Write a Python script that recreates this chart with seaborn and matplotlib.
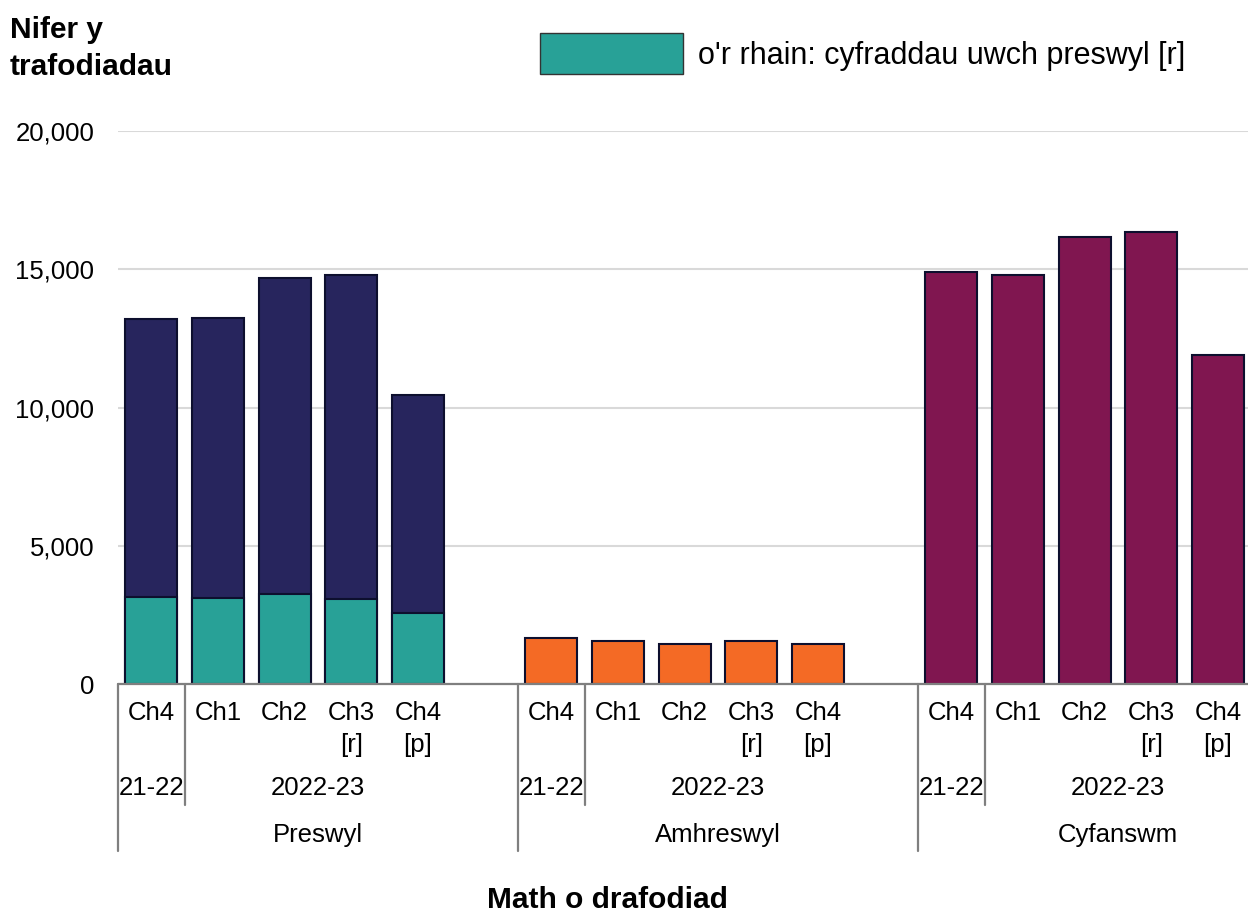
import pandas as pd
import matplotlib.pyplot as plt
import matplotlib.transforms as mtransforms
from matplotlib.patches import Patch
import seaborn as sns

# Data
groups = ['Preswyl', 'Amhreswyl', 'Cyfanswm']
quarters = ['Ch4', 'Ch1', 'Ch2', 'Ch3\n[r]', 'Ch4\n[p]']
years = ['21-22', '2022-23']
residential = [13200, 13240, 14690, 14790, 10450]
higher_rates = [3150, 3110, 3250, 3080, 2570]
non_residential = [1660, 1550, 1450, 1550, 1440]
total = [14900, 14790, 16170, 16350, 11900]

colours = {'Preswyl': '#27255d', 'Amhreswyl': '#f46a25', 'Cyfanswm': '#801650'}
teal = '#28a197'
edge = '#0d0f2e'
grey = '#7f7f7f'

# build slot order: 5 bars per group plus an empty slot between groups
order = []
rows = []
for g, vals in zip(groups, [residential, non_residential, total]):
    for i, v in enumerate(vals):
        slot = f'{g}_{i}'
        order.append(slot)
        rows.append({'slot': slot, 'value': v, 'group': g})
    if g != groups[-1]:
        order.append(f'gap_{g}')
df = pd.DataFrame(rows)
df_hr = pd.DataFrame({'slot': [f'Preswyl_{i}' for i in range(5)], 'value': higher_rates})

sns.set_style('white')
plt.rcParams['font.family'] = ['Liberation Sans', 'DejaVu Sans']
plt.rcParams['text.color'] = 'black'
plt.rcParams['ytick.color'] = 'black'
plt.rcParams['xtick.color'] = 'black'

fig = plt.figure(figsize=(12.48, 9.15), dpi=100)
W, H = 1248, 915
ax = fig.add_axes([118 / W, 1 - 684 / H, (W - 118) / W, (684 - 131) / H])

sns.barplot(data=df, x='slot', y='value', hue='group', order=order,
            palette=colours, dodge=False, width=0.78, edgecolor=edge,
            linewidth=1.5, saturation=1, legend=False, ax=ax, zorder=3)
sns.barplot(data=df_hr, x='slot', y='value', order=order, color=teal,
            width=0.78, edgecolor=edge, linewidth=1.5, saturation=1,
            ax=ax, zorder=4)

ax.set_xlim(-0.5, 16.45)
ax.set_ylim(0, 20000)
ax.set_yticks([0, 5000, 10000, 15000, 20000])
ax.set_yticklabels(['0', '5,000', '10,000', '15,000', '20,000'], fontsize=18.5)
ax.tick_params(axis='y', length=0, pad=17)
ax.set_xticks([])
ax.set_xlabel('')
ax.set_ylabel('')
for s in ax.spines.values():
    s.set_visible(False)
ax.grid(axis='y', color='#d9d9d9', linewidth=1.5, zorder=0)
ax.axhline(0, color=grey, linewidth=1.6, zorder=5, clip_on=False)

# multi-level category labels below the axis
tr = mtransforms.blended_transform_factory(ax.transData, fig.transFigure)
def fy(px):
    return 1 - px / H

for gi, g in enumerate(groups):
    base = gi * 6
    for i, q in enumerate(quarters):
        ax.text(base + i, fy(701), q, transform=tr, ha='center', va='top',
                fontsize=18.5, linespacing=1.4)
    ax.text(base, fy(788), years[0], transform=tr, ha='center', va='center', fontsize=18.5)
    ax.text(base + 2.5, fy(788), years[1], transform=tr, ha='center', va='center', fontsize=18.5)
    ax.text(base + 2.5, fy(835), g, transform=tr, ha='center', va='center', fontsize=18.5)
    ax.plot([base - 0.5, base - 0.5], [fy(684), fy(851)], transform=tr,
            color=grey, linewidth=1.6, clip_on=False)
    ax.plot([base + 0.5, base + 0.5], [fy(684), fy(805)], transform=tr,
            color=grey, linewidth=1.6, clip_on=False)

# titles
fig.text(10 / W, fy(16), 'Nifer y\ntrafodiadau', ha='left', va='top',
         fontsize=21.5, fontweight='bold', linespacing=1.4)
fig.text(607 / W, fy(900), 'Math o drafodiad', ha='center', va='center',
         fontsize=21.5, fontweight='bold')

# legend
fs = 22
px = fs * 100 / 72
fig.legend(handles=[Patch(facecolor=teal, edgecolor='#333333', linewidth=1.0,
                          label="o'r rhain: cyfraddau uwch preswyl [r]")],
           loc='upper left', bbox_to_anchor=(540 / W, fy(33)), frameon=False,
           fontsize=fs, handlelength=143 / px, handleheight=52 / px,
           handletextpad=15 / px, borderpad=0, borderaxespad=0)

fig.savefig('out.png', dpi=100)
